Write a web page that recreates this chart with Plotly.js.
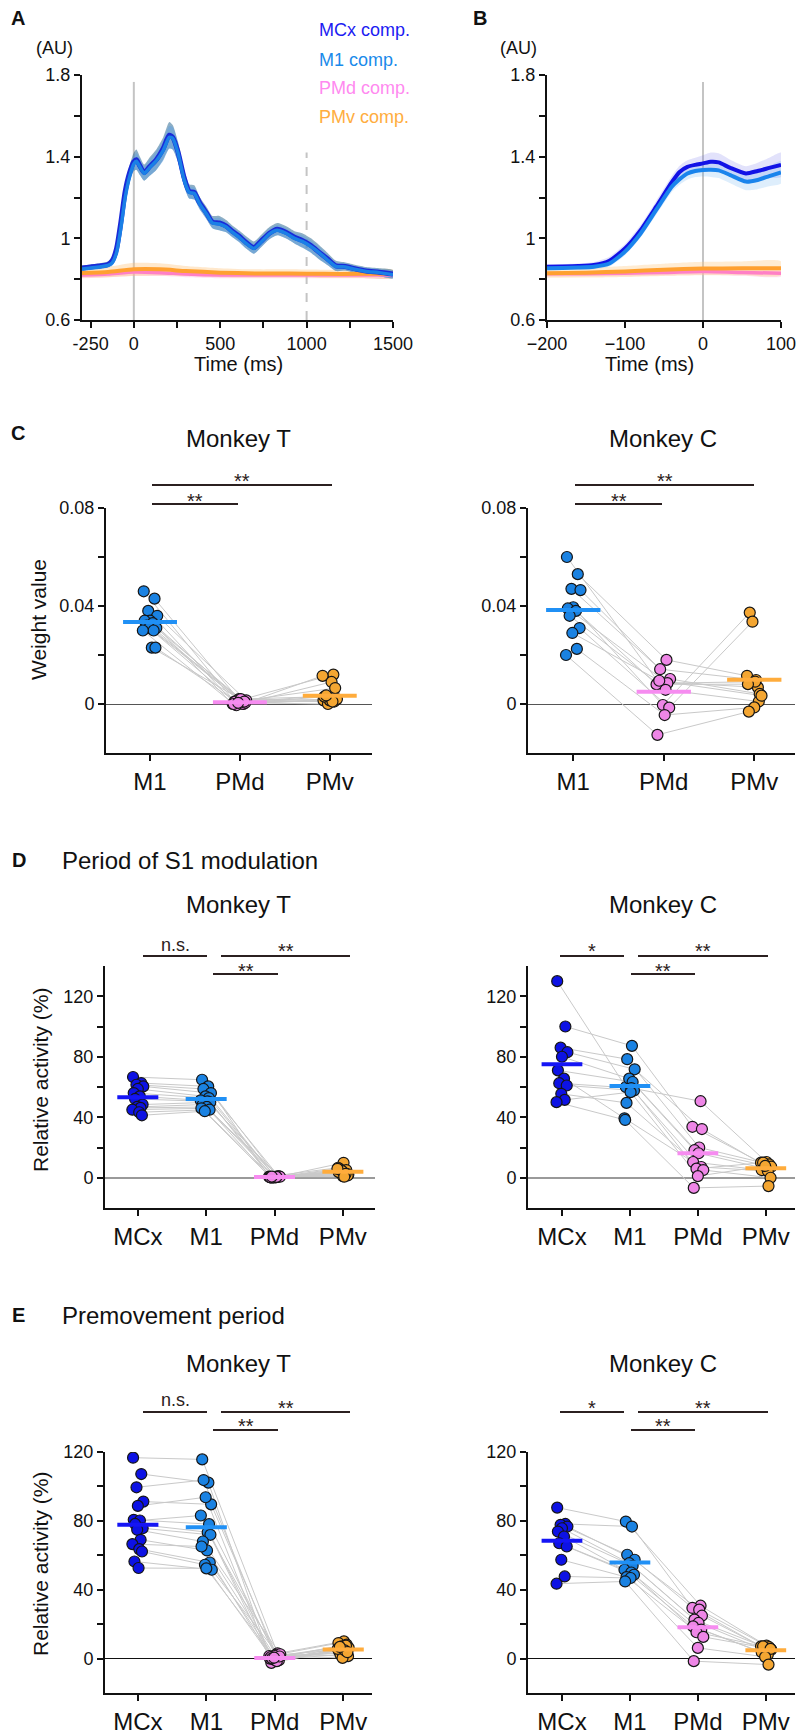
<!DOCTYPE html>
<html><head><meta charset="utf-8">
<script src="https://cdn.plot.ly/plotly-3.0.1.min.js"></script>
<style>body{margin:0;background:#fff}#chart{width:802px;height:1735px}</style>
</head><body><div id="chart"></div>
<script>
// ---------- Panel A: time course (ms) ----------
const timeA = [-300,-250,-200,-150,-125,-100,-75,-50,-25,0,15,35,60,90,130,170,205,225,255,290,320,350,380,420,455,495,535,570,610,650,695,735,785,830,880,930,975,1025,1075,1120,1170,1225,1285,1345,1420,1500];
const mcxA = [0.855,0.86,0.865,0.872,0.89,0.95,1.08,1.23,1.32,1.375,1.385,1.355,1.322,1.35,1.385,1.44,1.505,1.495,1.425,1.3,1.23,1.225,1.175,1.125,1.08,1.075,1.06,1.035,1.01,0.98,0.955,0.985,1.025,1.045,1.03,1.005,0.99,0.965,0.93,0.9,0.865,0.862,0.85,0.84,0.834,0.825];
const m1A = [0.85,0.855,0.86,0.868,0.88,0.93,1.05,1.2,1.3,1.365,1.378,1.35,1.318,1.345,1.38,1.43,1.495,1.49,1.42,1.29,1.225,1.22,1.17,1.12,1.075,1.07,1.055,1.03,1.005,0.975,0.95,0.98,1.022,1.04,1.025,1.0,0.985,0.96,0.928,0.895,0.862,0.86,0.847,0.838,0.832,0.822];
const mcxSemA = [0.012,0.012,0.013,0.015,0.018,0.022,0.025,0.03,0.035,0.045,0.05,0.045,0.04,0.045,0.05,0.055,0.065,0.06,0.05,0.04,0.035,0.035,0.03,0.03,0.03,0.035,0.03,0.028,0.028,0.03,0.03,0.03,0.03,0.03,0.03,0.03,0.035,0.035,0.035,0.03,0.025,0.02,0.02,0.02,0.02,0.02];
const m1SemA = [0.01,0.01,0.011,0.012,0.015,0.018,0.02,0.025,0.03,0.035,0.04,0.04,0.035,0.04,0.045,0.05,0.055,0.055,0.045,0.035,0.03,0.03,0.028,0.025,0.025,0.03,0.025,0.025,0.025,0.025,0.025,0.025,0.025,0.025,0.025,0.025,0.03,0.03,0.03,0.025,0.02,0.018,0.018,0.018,0.018,0.018];
const timeA2 = [-300,-150,0,150,300,500,700,900,1100,1300,1500];
const pmvA = [0.83,0.835,0.848,0.848,0.84,0.832,0.828,0.828,0.826,0.826,0.826];
const pmvSemA = [0.022,0.025,0.032,0.03,0.025,0.022,0.02,0.02,0.02,0.02,0.02];
const pmdA = [0.82,0.825,0.835,0.832,0.825,0.82,0.82,0.82,0.82,0.82,0.82];
const pmdSemA = [0.015,0.015,0.018,0.017,0.015,0.015,0.015,0.015,0.015,0.015,0.015];
const eventsA = [0, 1000];

// ---------- Panel B ----------
const timeB = [-200,-180,-160,-140,-120,-100,-80,-60,-40,-30,-20,-10,0,10,20,35,55,70,85,100];
const mcxB = [0.861,0.862,0.864,0.869,0.89,0.95,1.04,1.155,1.275,1.325,1.35,1.36,1.367,1.375,1.372,1.345,1.318,1.33,1.345,1.36];
const m1B = [0.853,0.855,0.857,0.861,0.877,0.935,1.024,1.139,1.253,1.29,1.318,1.33,1.335,1.336,1.333,1.31,1.278,1.286,1.305,1.323];
const mcxSemB = [0.012,0.012,0.013,0.015,0.02,0.022,0.025,0.028,0.03,0.03,0.032,0.035,0.04,0.045,0.045,0.04,0.035,0.04,0.05,0.06];
const m1SemB = [0.01,0.01,0.011,0.012,0.015,0.018,0.02,0.024,0.026,0.028,0.03,0.03,0.032,0.035,0.037,0.04,0.042,0.045,0.05,0.055];
const timeB2 = [-200,-150,-100,-50,0,50,100];
const pmvB = [0.829,0.832,0.838,0.846,0.852,0.853,0.853];
const pmvSemB = [0.022,0.024,0.027,0.03,0.033,0.034,0.034];
const pmdB = [0.826,0.827,0.829,0.833,0.837,0.833,0.829];
const pmdSemB = [0.014,0.014,0.015,0.015,0.016,0.016,0.016];
const eventsB = [0];

// ---------- Panel C: weight values ----------
const catsC = ['M1','PMd','PMv'];
const cT_M1 = [0.046,0.043,0.038,0.036,0.034,0.034,0.033,0.032,0.031,0.031,0.030,0.030,0.023,0.023];
const cT_PMd = [0.001,0.0,-0.0005,0.0015,0.002,0.0,0.0,0.001,0.0005,0.001,0.002,0.0,0.001,0.0005];
const cT_PMv = [0.012,0.0115,0.009,0.0065,0.003,0.002,0.0015,0.001,0.0,0.002,0.0015,0.003,0.001,0.0035];
const cT_mean = [0.0335,0.0007,0.0034];
const cC_M1 = [0.06,0.053,0.047,0.0465,0.0395,0.039,0.038,0.036,0.031,0.029,0.0225,0.02];
const cC_PMd = [0.009,0.018,0.0142,0.0102,-0.0004,0.0085,0.008,0.0058,-0.0015,0.0095,-0.0045,-0.0126];
const cC_PMv = [0.0068,0.0115,0.0098,0.0041,0.0373,0.0091,0.0081,0.001,0.0336,0.0034,-0.0014,-0.0031];
const cC_mean = [0.0384,0.005,0.0099];

// ---------- Panel D: period of S1 modulation ----------
const catsDE = ['MCx','M1','PMd','PMv'];
const dT_MCx = [66.6,62.6,61.5,60.4,58.7,56,53.8,52.1,48.4,46.8,46.2,45,43.3,41.3];
const dT_M1 = [64.8,60.4,58.7,56,53.8,52.7,51.2,50.5,49.9,48.4,46.8,45.9,45,44];
const dT_PMd = [0.5,0.8,0.3,1.0,0.2,0.6,0.4,0.9,0.1,0.7,0.5,0.3,0.6,0.8];
const dT_PMv = [9.9,6.6,5.1,3.3,2.2,1.1,3.7,2.9,5.5,1.5,4.4,2.6,5.9,0.7];
const dT_mean = [53.2,52.1,0.5,4.0];
const dC_MCx = [130,100,86,83,80,71,65.5,62.5,61,55.5,51.5,50];
const dC_M1 = [60,87.2,78.4,71.7,65.5,63.3,39.3,59.3,57.7,49.5,56.6,38.2];
const dC_PMd = [50.6,33.7,20,32.2,18.2,16.2,10.4,7.1,6,5.1,1.1,-6.7];
const dC_PMv = [10.4,10,8.9,8.2,7.3,6,5.1,4.4,10,0,7.8,-5.5];
const dC_mean = [75,60.6,16.2,6.2];

// ---------- Panel E: premovement period ----------
const eT_MCx = [116.7,107.2,99.5,91.2,88.7,80.6,80.2,78.2,75.7,74.8,69,66.5,63.6,62.2,56.4,52.6];
const eT_M1 = [115.7,102.2,103.7,89.6,93.7,78.1,83.1,73.4,71.9,68,62.8,65.1,55.8,54.5,51.6,52.4];
const eT_PMd = [3,1.5,0.5,-1,-2.5,2,0,1,-0.5,2.5,1.5,0.8,-1.5,0.2,1.2,0.5];
const eT_PMv = [10,9,8.1,7.1,6.2,5.2,4.3,3.3,2.3,1.4,0.4,7.5,5.6,4.8,3.7,6.8];
const eT_mean = [77.7,76.3,0.4,5.2];
const eC_MCx = [87.7,78.2,77.7,76.7,75.7,73.8,70.9,67,65.1,57.4,47.7,43.5];
const eC_M1 = [79.6,76.7,60.3,57.4,55.4,53.9,51.6,50,48.7,47.3,46.8,44.8];
const eC_PMd = [30.7,29.4,28.4,24.9,22.6,20.7,18.7,16.8,15.3,12.6,6.2,-1.5];
const eC_PMv = [7.5,7.1,6.6,6.2,5.2,4.6,3.7,2.3,7.1,5.6,1,-3.5];
const eC_mean = [68.4,55.8,18.2,4.8];

// ---------- styling ----------
const W = 802, H = 1735;
const FONT = 'Arial, "Liberation Sans", Helvetica, sans-serif';
const fx = p => p / W, fy = p => 1 - p / H;
const DOT = {MCx:'#0d12e4', M1:'#1a82e2', PMd:'#ee86e6', PMv:'#f4a632'};
const BAR = {MCx:'#1515f5', M1:'#2090f5', PMd:'#f68cf0', PMv:'#ffac3c'};
const JIT = [-0.07,0.05,-0.02,0.08,0.0,-0.06,0.03,-0.04,0.07,-0.01,0.04,-0.08,0.02,0.06,-0.05,0.01];

const traces = [];
function band(t, v, s, fill, xa, ya) {
  const up = v.map((d,i)=>d + s[i]), lo = v.map((d,i)=>d - s[i]);
  traces.push({x: t.concat(t.slice().reverse()), y: up.concat(lo.reverse()), fill:'toself', fillcolor:fill,
    mode:'lines', line:{width:0, shape:'spline', smoothing:0.6}, xaxis:xa, yaxis:ya, hoverinfo:'skip'});
}
function curve(t, v, color, w, xa, ya) {
  traces.push({x:t, y:v, mode:'lines', line:{color:color, width:w, shape:'spline', smoothing:0.6}, xaxis:xa, yaxis:ya, hoverinfo:'skip'});
}
// A
band(timeA2, pmdA, pmdSemA, 'rgba(255,150,205,0.30)', 'x', 'y');
band(timeA2, pmvA, pmvSemA, 'rgba(255,190,110,0.35)', 'x', 'y');
band(timeA, mcxA, mcxSemA, 'rgba(50,110,150,0.55)', 'x', 'y');
band(timeA, m1A, m1SemA, 'rgba(90,160,230,0.45)', 'x', 'y');
curve(timeA2, pmdA, '#ff80c6', 3.5, 'x', 'y');
curve(timeA2, pmvA, '#ffa030', 4, 'x', 'y');
curve(timeA, mcxA, '#1a2ad8', 5, 'x', 'y');
curve(timeA, m1A, '#1a80e6', 3.5, 'x', 'y');
// B
band(timeB2, pmdB, pmdSemB, 'rgba(255,160,205,0.30)', 'x2', 'y2');
band(timeB2, pmvB, pmvSemB, 'rgba(255,200,130,0.35)', 'x2', 'y2');
band(timeB, mcxB, mcxSemB, 'rgba(110,110,235,0.20)', 'x2', 'y2');
band(timeB, m1B, m1SemB, 'rgba(90,170,240,0.20)', 'x2', 'y2');
curve(timeB2, pmdB, '#ff80c6', 3.5, 'x2', 'y2');
curve(timeB2, pmvB, '#ffa030', 4, 'x2', 'y2');
curve(timeB, mcxB, '#1212e6', 4, 'x2', 'y2');
curve(timeB, m1B, '#1a84ec', 4, 'x2', 'y2');

function dotPanel(xa, ya, cats, groups, means) {
  const n = groups[0].length;
  const jx = (k, i) => k + JIT[(i + k * 5) % JIT.length];
  for (let i = 0; i < n; i++) {
    traces.push({x: cats.map((c,k)=>jx(k,i)), y: groups.map(g=>g[i]), mode:'lines',
      line:{color:'#c9c9c9', width:1}, xaxis:xa, yaxis:ya, hoverinfo:'skip'});
  }
  groups.forEach((g,k)=>traces.push({x: g.map((v,i)=>jx(k,i)), y:g, mode:'markers',
    marker:{color:DOT[cats[k]], size:11, line:{color:'#151515', width:1.2}}, xaxis:xa, yaxis:ya, hoverinfo:'skip'}));
  means.forEach((m,k)=>traces.push({x:[k-0.3,k+0.3], y:[m,m], mode:'lines',
    line:{color:BAR[cats[k]], width:4}, xaxis:xa, yaxis:ya, hoverinfo:'skip'}));
}
dotPanel('x3','y3', catsC, [cT_M1,cT_PMd,cT_PMv], cT_mean);
dotPanel('x4','y4', catsC, [cC_M1,cC_PMd,cC_PMv], cC_mean);
dotPanel('x5','y5', catsDE, [dT_MCx,dT_M1,dT_PMd,dT_PMv], dT_mean);
dotPanel('x6','y6', catsDE, [dC_MCx,dC_M1,dC_PMd,dC_PMv], dC_mean);
dotPanel('x7','y7', catsDE, [eT_MCx,eT_M1,eT_PMd,eT_PMv], eT_mean);
dotPanel('x8','y8', catsDE, [eC_MCx,eC_M1,eC_PMd,eC_PMv], eC_mean);

const axBase = {showline:true, linecolor:'#111', linewidth:2, ticks:'outside', ticklen:6, tickwidth:2, tickcolor:'#111',
  showgrid:false, zeroline:false, tickfont:{family:FONT, size:18, color:'#111'}, fixedrange:true};
const catX = (l, r, range, cats, anchor) => Object.assign({}, axBase, {domain:[fx(l),fx(r)], range:range,
  tickvals:cats.map((c,i)=>i), ticktext:cats, tickfont:{family:FONT, size:24, color:'#111'}, anchor:anchor});
const yTimeTicks = [0.6,0.8,1,1.2,1.4,1.6,1.8], yTimeText = ['0.6','','1','','1.4','','1.8'];
const yAB = (anchor) => Object.assign({}, axBase, {domain:[fy(320),fy(75)], range:[0.6,1.8], tickvals:yTimeTicks, ticktext:yTimeText, anchor:anchor});
const yC = (anchor) => Object.assign({}, axBase, {domain:[fy(753),fy(508)], range:[-0.02,0.08],
  tickvals:[0,0.02,0.04,0.06,0.08], ticktext:['0','','0.04','','0.08'], anchor:anchor,
  zeroline:true, zerolinecolor:'#555', zerolinewidth:1});
const yD = (anchor) => Object.assign({}, axBase, {domain:[fy(1208),fy(966)], range:[-20,140],
  tickvals:[0,20,40,60,80,100,120], ticktext:['0','','40','','80','','120'], anchor:anchor,
  zeroline:true, zerolinecolor:'#9a9a9a', zerolinewidth:1.5});
const yE = (anchor) => Object.assign({}, axBase, {domain:[fy(1693),fy(1452)], range:[-20,120],
  tickvals:[0,20,40,60,80,100,120], ticktext:['0','','40','','80','','120'], anchor:anchor,
  zeroline:true, zerolinecolor:'#111', zerolinewidth:1});

const ann = [];
function txt(text, x, y, size, o) {
  o = o || {};
  ann.push({text:text, x:fx(x), y:fy(y), xref:'paper', yref:'paper', showarrow:false,
    xanchor:o.xa || 'center', yanchor:'middle', textangle:o.rot || 0,
    font:{family:FONT, size:size, color:o.color || '#111'}});
}
txt('<b>A</b>', 18, 18, 20); txt('<b>B</b>', 480, 18, 20);
txt('<b>C</b>', 18, 433, 20); txt('<b>D</b>', 19, 860, 20); txt('<b>E</b>', 18, 1315, 20);
txt('(AU)', 54, 48, 18); txt('(AU)', 518, 48, 18);
txt('MCx comp.', 317, 30, 18, {xa:'left', color:'#1c1cf2'});
txt('M1 comp.', 317, 60, 18, {xa:'left', color:'#1a8aea'});
txt('PMd comp.', 317, 88, 18, {xa:'left', color:'#ff8af0'});
txt('PMv comp.', 317, 117, 18, {xa:'left', color:'#ffad40'});
txt('Time (ms)', 238, 364, 20); txt('Time (ms)', 649, 364, 20);
txt('Monkey T', 238, 438, 24); txt('Monkey C', 663, 438, 24);
txt('Weight value', 38, 620, 21, {rot:-90});
txt('Period of S1 modulation', 60, 860, 24, {xa:'left'});
txt('Monkey T', 238, 904, 24); txt('Monkey C', 663, 904, 24);
txt('Relative activity (%)', 40, 1080, 21, {rot:-90});
txt('Premovement period', 60, 1315, 24, {xa:'left'});
txt('Monkey T', 238, 1363, 24); txt('Monkey C', 663, 1363, 24);
txt('Relative activity (%)', 40, 1564, 21, {rot:-90});

const shapes = [];
function sig(x0, x1, y, label, ty) {
  shapes.push({type:'line', xref:'paper', yref:'paper', x0:fx(x0), x1:fx(x1), y0:fy(y), y1:fy(y), line:{color:'#2b2020', width:2}});
  txt(label, (x0 + x1) / 2, ty, label === 'n.s.' ? 18 : 20, {color:'#2b2020'});
}
// C
sig(152, 332, 485, '**', 481); sig(152, 238, 504, '**', 501);
sig(575, 754, 485, '**', 481); sig(575, 662, 504, '**', 501);
// D
sig(143, 207, 956, 'n.s.', 945); sig(221, 350, 956, '**', 951); sig(213, 278, 974, '**', 971);
sig(560, 624, 956, '*', 951); sig(638, 768, 956, '**', 951); sig(631, 695, 974, '**', 971);
// E
sig(143, 207, 1412, 'n.s.', 1400); sig(221, 350, 1412, '**', 1408); sig(213, 278, 1430, '**', 1426);
sig(560, 624, 1412, '*', 1408); sig(638, 768, 1412, '**', 1408); sig(631, 695, 1430, '**', 1426);
// event lines
eventsA.forEach((e,i)=>shapes.push({type:'line', xref:'x', yref:'y', x0:e, x1:e, y0:0.6, y1:i===0?1.766:1.42, layer:'below',
  line:{color:'#c4c4c4', width:2, dash:i===0?'solid':'dash'}}));
eventsB.forEach(e=>shapes.push({type:'line', xref:'x2', yref:'y2', x0:e, x1:e, y0:0.6, y1:1.766, layer:'below',
  line:{color:'#c4c4c4', width:2}}));

const layout = {
  width:W, height:H, margin:{l:0,r:0,t:0,b:0}, paper_bgcolor:'#fff', plot_bgcolor:'rgba(0,0,0,0)', showlegend:false,
  font:{family:FONT, color:'#111'},
  xaxis: Object.assign({}, axBase, {domain:[fx(82),fx(393)], range:[-300,1500], tickvals:[-250,0,250,500,750,1000,1250,1500],
    ticktext:['-250','0','','500','','1000','','1500'], anchor:'y'}),
  yaxis: yAB('x'),
  xaxis2: Object.assign({}, axBase, {domain:[fx(547),fx(781)], range:[-200,100], tickvals:[-200,-100,0,100], anchor:'y2'}),
  yaxis2: yAB('x2'),
  xaxis3: catX(106, 372, [-0.49,2.47], catsC, 'y3'), yaxis3: yC('x3'),
  xaxis4: catX(528, 795, [-0.5,2.45], catsC, 'y4'), yaxis4: yC('x4'),
  xaxis5: catX(105, 375, [-0.48,3.47], catsDE, 'y5'), yaxis5: yD('x5'),
  xaxis6: catX(528, 795, [-0.5,3.43], catsDE, 'y6'), yaxis6: yD('x6'),
  xaxis7: catX(105, 372, [-0.48,3.42], catsDE, 'y7'), yaxis7: yE('x7'),
  xaxis8: catX(528, 795, [-0.5,3.43], catsDE, 'y8'), yaxis8: yE('x8'),
  annotations: ann, shapes: shapes
};
Plotly.newPlot('chart', traces, layout, {staticPlot:true, displayModeBar:false});
</script></body></html>
